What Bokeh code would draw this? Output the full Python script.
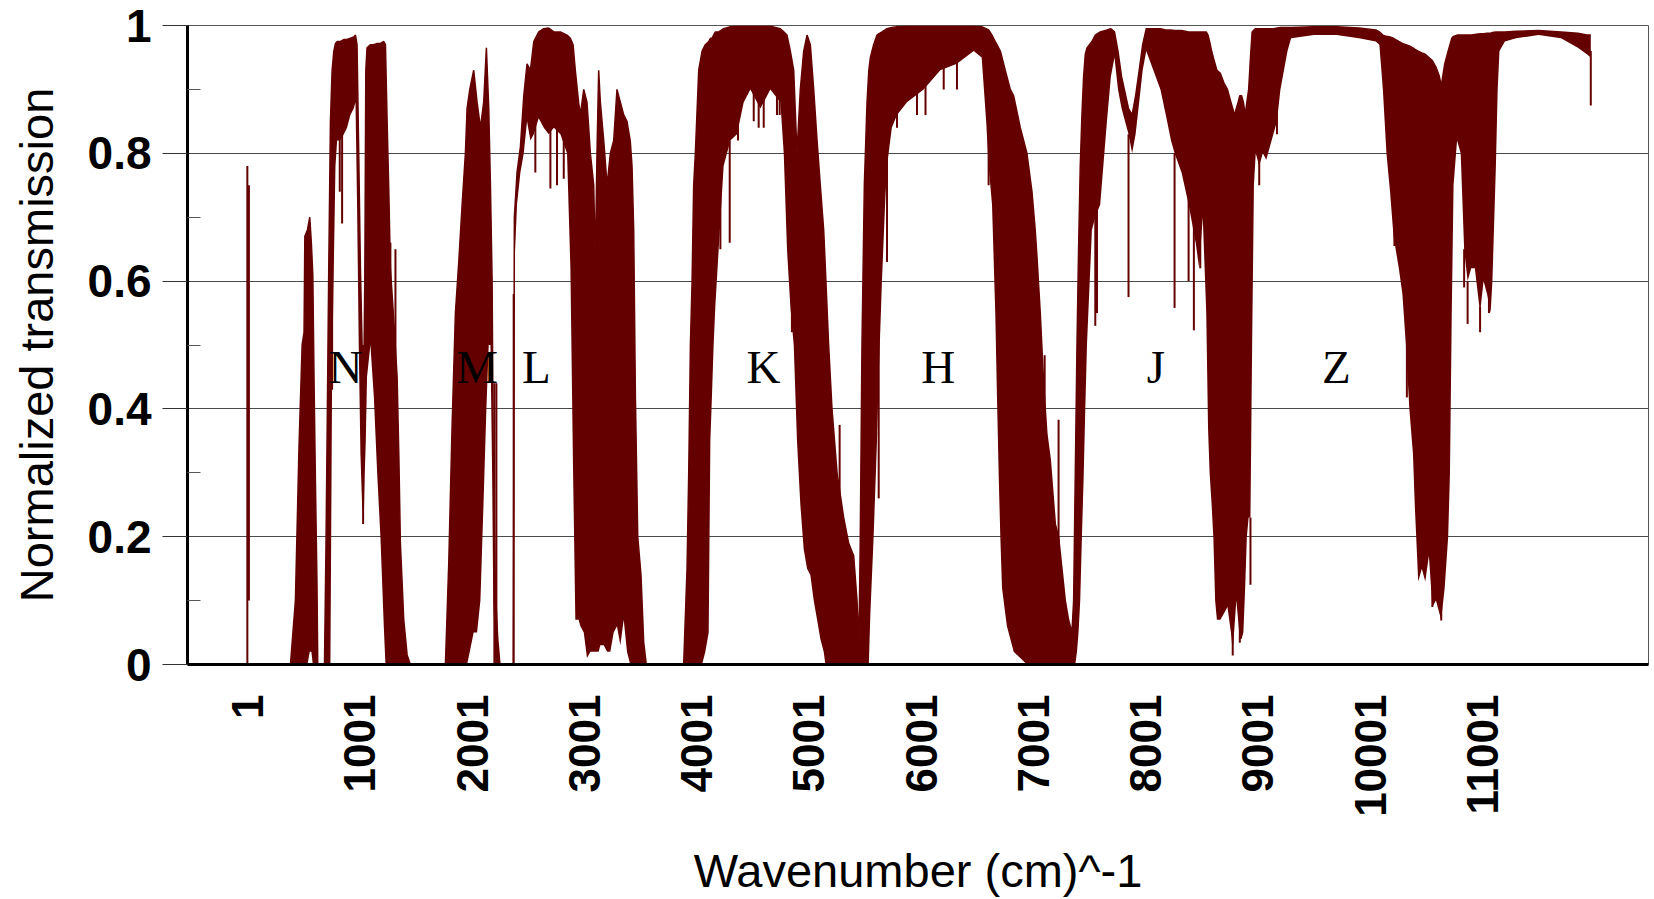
import math
from bokeh.plotting import figure
from bokeh.models import FixedTicker, Range1d
from bokeh.core.properties import value
from bokeh.embed import file_html
from bokeh.resources import INLINE

# ---------------- data ----------------
# envelope of the dense transmission spectrum: wavenumber, upper and lower values
wavenumber = [
    -10, 30, 384, 428, 460, 488, 505, 512, 535, 556, 570, 583, 595, 606, 620, 627,
    687, 700, 710, 725, 740, 755, 770, 785, 800, 829, 859, 888, 918, 948, 963, 977,
    992, 1007, 1022, 1037, 1046, 1055, 1066, 1096, 1126, 1156, 1185, 1215, 1230, 1245,
    1260, 1274, 1300, 1334, 1350, 1363, 1393, 1423, 1452,
    1764, 1794, 1823, 1853, 1883, 1913, 1942, 1957, 1981, 2016, 2046, 2076, 2105, 2129,
    2150, 2165, 2180, 2190, 2209, 2230, 2250,
    2369, 2378, 2402, 2432, 2462, 2491, 2521, 2551, 2595, 2640, 2684, 2730, 2788, 2847,
    2877, 2901, 2921, 2950, 2966, 2996, 3025, 3055, 3085, 3099, 3114, 3129, 3144, 3174,
    3204, 3233, 3263, 3292, 3322, 3352, 3381, 3410, 3426, 3441, 3456, 3477, 3506, 3530, 3553,
    3886, 3916, 3931, 3946, 3961, 3975, 3990, 4020, 4050, 4079, 4109, 4124, 4138, 4153,
    4168, 4198, 4242, 4302, 4361, 4421, 4480, 4569, 4658, 4747, 4777, 4806, 4836, 4866,
    4895, 4925, 4955, 4985, 5014, 5044, 5074, 5103, 5133, 5148, 5177, 5207, 5252, 5311,
    5355, 5400, 5430, 5447,
    5459, 5474, 5495, 5519, 5535, 5549, 5578, 5608, 5623, 5652, 5680, 5697, 5740, 5786,
    5875, 6023, 6172, 6320, 6469, 6540, 6580, 6602, 6632, 6661, 6676, 6691, 6706, 6721,
    6750, 6765, 6795, 6825, 6884, 6943, 6988, 7017, 7032, 7062, 7092, 7121, 7151, 7196,
    7225, 7255, 7285, 7314, 7344,
    7359, 7374, 7389, 7403, 7418, 7433, 7448, 7463, 7478, 7522, 7552, 7596, 7656, 7691,
    7723, 7754, 7786, 7848, 7880, 7911, 7943, 7974, 8006, 8069, 8132, 8180, 8226, 8258,
    8320, 8383, 8446, 8477, 8509, 8540, 8556, 8570, 8588, 8603, 8619, 8635, 8666, 8698,
    8729, 8760, 8776, 8792, 8808, 8824, 8839, 8855, 8871, 8887, 8902, 8918, 8934, 8949,
    8965, 8981, 9012, 9044, 9075, 9138, 9170, 9201, 9264, 9296,
    9500, 9700, 9900, 10050, 10082, 10113, 10145, 10177, 10208, 10255, 10287, 10318,
    10349, 10381, 10397, 10428, 10460, 10491, 10523, 10554, 10586, 10617, 10633, 10664,
    10695, 10711, 10727, 10743, 10774, 10806, 10837, 10868, 10900, 10932, 10979, 11010,
    11041, 11073, 11089, 11120, 11136, 11152, 11200, 11300, 11500, 11700, 11850, 11930, 11965,
]
upper = [
    0, 0, 0, 0.10, 0.34, 0.50, 0.52, 0.67, 0.68, 0.70, 0.66, 0.61, 0.43, 0.29, 0.13, 0,
    0, 0.18, 0.35, 0.62, 0.85, 0.93, 0.96, 0.972, 0.975, 0.975, 0.978, 0.978, 0.98, 0.982, 0.985, 0.97,
    0.80, 0.62, 0.50, 0.45, 0.60, 0.93, 0.965, 0.97, 0.97, 0.972, 0.972, 0.975, 0.97, 0.85,
    0.74, 0.62, 0.55, 0.45, 0.32, 0.19, 0.07, 0.015, 0,
    0, 0.16, 0.37, 0.55, 0.63, 0.72, 0.80, 0.87, 0.90, 0.93, 0.88, 0.84, 0.88, 0.965,
    0.87, 0.75, 0.60, 0.32, 0.12, 0.04, 0,
    0, 0.70, 0.77, 0.81, 0.89, 0.94, 0.93, 0.975, 0.99, 0.995, 0.996, 0.99, 0.99, 0.985,
    0.98, 0.97, 0.93, 0.88, 0.86, 0.90, 0.88, 0.80, 0.75, 0.63, 0.80, 0.93, 0.88, 0.82,
    0.75, 0.80, 0.82, 0.90, 0.88, 0.86, 0.85, 0.82, 0.78, 0.68, 0.42, 0.20, 0.14, 0.035, 0,
    0, 0.15, 0.30, 0.50, 0.60, 0.75, 0.80, 0.93, 0.96, 0.97, 0.975, 0.98, 0.98, 0.985,
    0.99, 0.99, 0.995, 0.998, 0.999, 0.999, 0.999, 0.999, 0.999, 0.995, 0.99, 0.985, 0.96, 0.93,
    0.80, 0.90, 0.96, 0.985, 0.97, 0.90, 0.82, 0.75, 0.68, 0.62, 0.50, 0.40, 0.30, 0.23,
    0.19, 0.17, 0.10, 0.03,
    0.20, 0.50, 0.75, 0.88, 0.93, 0.95, 0.97, 0.985, 0.987, 0.99, 0.993, 0.995, 0.997, 0.998,
    0.999, 0.999, 0.999, 0.999, 0.999, 0.998, 0.995, 0.993, 0.985, 0.975, 0.97, 0.965, 0.96, 0.95,
    0.93, 0.92, 0.90, 0.89, 0.84, 0.80, 0.74, 0.68, 0.64, 0.55, 0.44, 0.36, 0.32, 0.22,
    0.20, 0.15, 0.10, 0.07, 0.05,
    0.10, 0.30, 0.50, 0.65, 0.78, 0.86, 0.92, 0.955, 0.965, 0.975, 0.985, 0.99, 0.993, 0.995,
    0.99, 0.96, 0.92, 0.87, 0.86, 0.89, 0.93, 0.97, 0.995, 0.995, 0.995, 0.993, 0.993, 0.992,
    0.992, 0.99, 0.99, 0.99, 0.99, 0.99, 0.985, 0.975, 0.96, 0.95, 0.94, 0.93, 0.925, 0.91,
    0.90, 0.88, 0.87, 0.86, 0.87, 0.88, 0.89, 0.89, 0.88, 0.86, 0.88, 0.90, 0.95, 0.99,
    0.993, 0.995, 0.995, 0.995, 0.995, 0.995, 0.996, 0.997, 0.997, 0.997,
    0.998, 0.998, 0.996, 0.993, 0.99, 0.985, 0.983, 0.982, 0.98, 0.975, 0.972, 0.97,
    0.968, 0.965, 0.963, 0.96, 0.957, 0.955, 0.95, 0.945, 0.935, 0.92, 0.905, 0.94,
    0.96, 0.97, 0.98, 0.983, 0.985, 0.985, 0.985, 0.985, 0.985, 0.986, 0.987, 0.987,
    0.988, 0.988, 0.989, 0.99, 0.99, 0.99, 0.99, 0.991, 0.992, 0.99, 0.988, 0.985, 0.985,
]
lower = [
    0, 0, 0, 0, 0, 0, 0, 0, 0, 0.02, 0.02, 0, 0, 0, 0, 0,
    0, 0, 0, 0, 0, 0.45, 0.62, 0.78, 0.82, 0.82, 0.83, 0.84, 0.86, 0.87, 0.88, 0.72,
    0.50, 0.33, 0.25, 0.23, 0.30, 0.35, 0.45, 0.50, 0.42, 0.30, 0.20, 0.06, 0, 0,
    0, 0, 0, 0, 0, 0, 0, 0, 0,
    0, 0, 0, 0, 0, 0, 0, 0, 0.02, 0.05, 0.05, 0.10, 0.26, 0.40,
    0.50, 0.50, 0.30, 0.10, 0, 0, 0,
    0, 0.62, 0.72, 0.77, 0.80, 0.85, 0.82, 0.83, 0.855, 0.84, 0.83, 0.84, 0.83, 0.80,
    0.62, 0.30, 0.07, 0.07, 0.06, 0.05, 0.01, 0.02, 0.02, 0.02, 0.02, 0.02, 0.03, 0.03,
    0.02, 0.02, 0.05, 0.06, 0.03, 0.07, 0.02, 0, 0, 0, 0, 0, 0, 0, 0,
    0, 0, 0, 0, 0, 0, 0, 0, 0, 0.02, 0.05, 0.35, 0.42, 0.50,
    0.56, 0.65, 0.78, 0.82, 0.83, 0.88, 0.90, 0.87, 0.90, 0.88, 0.80, 0.65, 0.56, 0.50,
    0.35, 0.25, 0.18, 0.15, 0.14, 0.10, 0.07, 0.04, 0.02, 0, 0, 0, 0, 0,
    0, 0, 0, 0,
    0, 0, 0, 0, 0, 0.08, 0.20, 0.35, 0.45, 0.60, 0.72, 0.78, 0.84, 0.86,
    0.88, 0.90, 0.93, 0.94, 0.96, 0.95, 0.85, 0.78, 0.72, 0.55, 0.42, 0.30, 0.20, 0.12,
    0.08, 0.06, 0.04, 0.02, 0.01, 0, 0, 0, 0, 0, 0, 0, 0, 0,
    0, 0, 0, 0, 0,
    0, 0, 0.02, 0.05, 0.10, 0.20, 0.29, 0.40, 0.50, 0.68, 0.70, 0.72, 0.85, 0.92,
    0.95, 0.90, 0.87, 0.83, 0.80, 0.83, 0.88, 0.93, 0.96, 0.93, 0.90, 0.86, 0.82, 0.80,
    0.77, 0.72, 0.66, 0.62, 0.70, 0.55, 0.37, 0.30, 0.25, 0.20, 0.10, 0.07, 0.07, 0.08,
    0.09, 0.05, 0.02, 0.06, 0.10, 0.07, 0.04, 0.04, 0.05, 0.12, 0.20, 0.23, 0.23, 0.50,
    0.75, 0.80, 0.78, 0.80, 0.79, 0.83, 0.85, 0.90, 0.96, 0.98,
    0.985, 0.985, 0.98, 0.975, 0.97, 0.90, 0.80, 0.74, 0.67, 0.62, 0.58, 0.50,
    0.40, 0.33, 0.25, 0.13, 0.15, 0.13, 0.17, 0.09, 0.10, 0.08, 0.07, 0.12,
    0.20, 0.30, 0.55, 0.75, 0.82, 0.80, 0.65, 0.60, 0.62, 0.62, 0.55, 0.60,
    0.58, 0.55, 0.60, 0.78, 0.90, 0.96, 0.975, 0.98, 0.985, 0.98, 0.965, 0.955, 0.95,
]

# isolated narrow absorption / emission lines
spike_x = [0, 14, 755, 823, 844, 1031, 1274, 1319, 2200, 2218, 2372, 2565, 2699, 2758, 2818,
           4213, 4296, 4370, 4510, 4554, 4599, 4717, 4741, 4850, 5275, 5623, 5697, 5786,
           5964, 6040, 6202, 6320, 6602, 7101, 7225, 7552, 7567, 7848, 8258, 8383, 8430,
           8487, 8776, 8839, 8934, 9012, 9170, 10216, 10327, 10554, 10633, 10837, 10868,
           10979, 11058, 11965]
spike_lo = [0, 0.10, 0.43, 0.74, 0.69, 0.22, 0.30, 0.30, 0.0, 0.0, 0, 0.77, 0.745, 0.75, 0.76,
            0.65, 0.66, 0.82, 0.85, 0.84, 0.84, 0.86, 0.86, 0.52, 0.05, 0.26, 0.63, 0.84,
            0.86, 0.86, 0.90, 0.90, 0.75, 0.10, 0.10, 0.53, 0.55, 0.575, 0.558, 0.60, 0.523,
            0.62, 0.014, 0.034, 0.125, 0.75, 0.83, 0.655, 0.418, 0.09, 0.069, 0.59, 0.533,
            0.52, 0.55, 0.875]
spike_hi = [0.78, 0.75, 0.70, 0.85, 0.85, 0.50, 0.66, 0.65, 0.44, 0.44, 0.58, 0.90, 0.90, 0.90, 0.90,
            0.80, 0.82, 0.90, 0.95, 0.95, 0.95, 0.95, 0.95, 0.70, 0.375, 0.60, 0.80, 0.90,
            0.95, 0.95, 0.96, 0.96, 0.85, 0.484, 0.383, 0.72, 0.72, 0.83, 0.80, 0.75, 0.70,
            0.70, 0.10, 0.10, 0.23, 0.80, 0.88, 0.70, 0.50, 0.15, 0.10, 0.65, 0.60,
            0.56, 0.60, 0.96]

# photometric band names
band_names = ["N", "M", "L", "K", "H", "J", "Z"]
band_x = [874, 2046, 2575, 4596, 6154, 8092, 9698]
band_y = [0.465, 0.465, 0.465, 0.465, 0.465, 0.465, 0.465]

x_ticks = [1, 1001, 2001, 3001, 4001, 5001, 6001, 7001, 8001, 9001, 10001, 11001]
y_ticks = [0, 0.2, 0.4, 0.6, 0.8, 1.0]
y_tick_labels = ["0", "0.2", "0.4", "0.6", "0.8", "1"]
y_minor = [0.1, 0.3, 0.5, 0.7, 0.9]

# ---------------- figure ----------------
MAROON = "#650000"
SANS = "Liberation Sans"

p = figure(width=1654, height=899, output_backend="svg", toolbar_location=None,
           x_range=Range1d(-533, 12479), y_range=Range1d(0, 1),
           min_border_left=187, min_border_right=6, min_border_top=25,
           min_border_bottom=234)
p.background_fill_color = "white"
p.border_fill_color = "white"
p.outline_line_color = "#555555"
p.outline_line_width = 1

p.varea(x=wavenumber, y1=lower, y2=upper, fill_color=MAROON)
p.line(x=wavenumber, y=upper, line_color=MAROON, line_width=1.5)
p.segment(x0=spike_x, y0=spike_lo, x1=spike_x, y1=spike_hi, line_color=MAROON, line_width=2)
p.text(x=band_x, y=band_y, text=band_names, text_font=value("Liberation Serif"),
       text_font_size=value("47px"), text_align="center", text_baseline="alphabetic",
       text_color="black")

# grid
p.xgrid.visible = False
yt = FixedTicker(ticks=y_ticks, minor_ticks=y_minor)
p.ygrid.ticker = yt
p.ygrid.grid_line_color = "#4a4a4a"
p.ygrid.grid_line_width = 1

# y axis
ya = p.yaxis[0]
ya.ticker = yt
ya.major_label_overrides = dict(zip(y_ticks, y_tick_labels))
ya.axis_line_color = "black"
ya.axis_line_width = 3
ya.major_tick_out = 25
ya.major_tick_in = 0
ya.major_tick_line_color = "#333333"
ya.minor_tick_in = 13
ya.minor_tick_out = 0
ya.minor_tick_line_color = "#555555"
ya.major_label_text_font = SANS
ya.major_label_text_font_style = "bold"
ya.major_label_text_font_size = "46px"
ya.major_label_text_color = "black"
ya.major_label_standoff = 11
ya.axis_label = "Normalized transmission"
ya.axis_label_text_font = SANS
ya.axis_label_text_font_style = "normal"
ya.axis_label_text_font_size = "47px"
ya.axis_label_text_color = "black"
ya.axis_label_standoff = 22

# x axis
xa = p.xaxis[0]
xa.ticker = FixedTicker(ticks=x_ticks, minor_ticks=[])
xa.major_label_overrides = {t: str(t) for t in x_ticks}
xa.axis_line_color = "black"
xa.axis_line_width = 3
xa.major_tick_out = 0
xa.major_tick_in = 0
xa.minor_tick_out = 0
xa.minor_tick_in = 0
xa.major_label_orientation = math.pi / 2
xa.major_label_text_font = SANS
xa.major_label_text_font_style = "bold"
xa.major_label_text_font_size = "44px"
xa.major_label_text_color = "black"
xa.major_label_standoff = 30
xa.axis_label = "Wavenumber (cm)^-1"
xa.axis_label_text_font = SANS
xa.axis_label_text_font_style = "normal"
xa.axis_label_text_font_size = "47px"
xa.axis_label_text_color = "black"
xa.axis_label_standoff = 24

open("out.html", "w").write(file_html(p, INLINE, title="Atmospheric transmission"))
